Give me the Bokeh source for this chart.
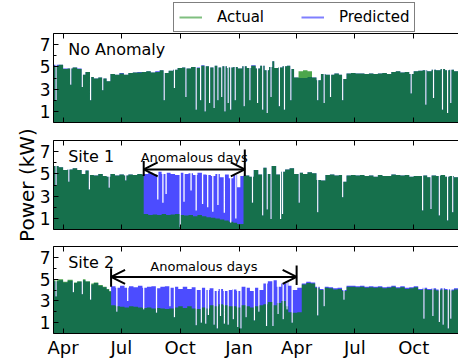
import numpy as np
from bokeh.plotting import figure
from bokeh.models import (Range1d, FixedTicker, LinearAxis, Legend, LegendItem,
                          Label, Arrow, OpenHead)
from bokeh.layouts import column
from bokeh.embed import file_html
from bokeh.resources import INLINE

# x values: days since 17 Mar 2013
tick_days = [15, 106, 198, 290, 380, 471, 563]
tick_labels = ["Apr", "Jul", "Oct", "Jan", "Apr", "Jul", "Oct"]

# ---- Panel 1: No Anomaly (segment start day, daily peak in kW) ----
p1_days = [0, 8, 15, 22, 30, 37, 44, 50, 57, 63, 70, 77, 83, 89, 96, 103, 110, 117, 124, 131,
           138, 145, 152, 159, 166, 173, 180, 187, 194, 201, 208, 215, 222, 229, 236, 243, 250,
           257, 264, 271, 274, 281, 288, 295, 302, 309, 316, 323, 330, 337, 342, 345, 351, 358,
           365, 372, 376, 383, 390, 397, 404, 411, 418, 425, 432, 439, 446, 453, 458, 465, 472,
           479, 486, 493, 500, 507, 514, 521, 528, 535, 542, 549, 556, 563, 570, 577, 584, 591,
           598, 605, 612, 619, 626, 633]
p1_actual = [5.1, 5.2, 4.8, 4.85, 4.95, 4.8, 4.3, 4.55, 4.1, 3.95, 4.05, 3.95, 3.7, 4.35, 4.3,
             4.4, 4.3, 4.45, 4.5, 4.5, 4.55, 4.6, 4.5, 4.55, 4.7, 4.45, 4.65, 4.75, 4.9, 4.95,
             4.85, 5.0, 4.9, 5.1, 5.05, 4.95, 5.1, 4.95, 5.05, 4.9, 4.95, 5.0, 4.85, 5.05, 4.9,
             5.1, 4.85, 5.1, 4.7, 5.0, 5.5, 4.9, 4.95, 5.05, 5.1, 4.8, 4.05, 4.6, 4.7, 4.6, 4.05,
             3.8, 4.35, 4.3, 4.3, 4.4, 4.3, 3.9, 4.4, 4.45, 4.4, 4.4, 4.35, 4.4, 4.35, 4.4, 4.45,
             4.35, 4.55, 4.6, 4.5, 4.55, 4.35, 4.6, 4.65, 4.7, 4.6, 4.75, 4.7, 4.8, 4.7, 4.75,
             4.6, 4.7]
p1_pred = [5.2, 5.2, 4.85, 4.85, 4.95, 4.85, 4.3, 4.55, 4.1, 3.95, 4.05, 3.95, 3.7, 4.35, 4.3,
           4.45, 4.3, 4.45, 4.5, 4.55, 4.55, 4.6, 4.5, 4.6, 4.7, 4.45, 4.65, 4.75, 4.9, 4.95,
           4.85, 5.0, 4.95, 5.15, 5.05, 4.95, 5.1, 4.95, 5.05, 4.9, 4.95, 5.0, 4.85, 5.05, 4.9,
           5.15, 4.85, 5.1, 4.7, 5.0, 5.5, 4.9, 4.95, 5.05, 5.1, 4.8, 4.05, 4.0, 4.0, 4.1, 4.05,
           3.8, 4.35, 4.3, 4.3, 4.4, 4.3, 3.9, 4.4, 4.45, 4.4, 4.4, 4.35, 4.4, 4.35, 4.4, 4.45,
           4.35, 4.55, 4.6, 4.5, 4.55, 4.35, 4.6, 4.65, 4.7, 4.6, 4.75, 4.7, 4.8, 4.7, 4.75,
           4.6, 4.7]
p1_dip_days = [3, 26, 44, 57, 76, 172, 188, 206, 222, 229, 236, 243, 250, 256, 262, 267, 272,
               276, 283, 297, 306, 318, 326, 333, 339, 352, 360, 370, 412, 422, 432, 451, 558,
               581, 593, 607, 615, 620]
p1_dip_vals = [2.0, 3.4, 3.2, 2.0, 2.9, 2.0, 3.1, 2.3, 1.15, 2.0, 1.0, 1.75, 1.3, 2.0, 2.3, 1.0,
               1.75, 1.15, 2.0, 1.45, 2.0, 1.75, 1.15, 0.85, 2.3, 1.45, 1.15, 2.0, 2.0, 1.75, 2.3,
               2.0, 2.6, 1.6, 2.2, 1.15, 0.85, 1.75]

# ---- Panel 2: Site 1 ----
p2_days = [0, 8, 15, 22, 30, 37, 44, 50, 57, 63, 70, 77, 83, 89, 96, 103, 110, 117, 124, 131, 138,
           141, 148, 155, 162, 169, 176, 183, 190, 197, 204, 211, 218, 225, 232, 239, 246, 253,
           260, 267, 274, 281, 287, 292,
           297, 301, 306, 313, 320, 327, 334, 341, 348, 355, 362, 369, 376, 383, 390, 397, 404,
           411, 418, 425, 432, 439, 446, 453, 458, 465, 472, 479, 486, 493, 500, 507, 514, 521,
           528, 535, 542, 549, 556, 563, 570, 577, 584, 591, 598, 605, 612, 619, 626, 633]
p2_actual = [5.7, 5.6, 5.35, 5.4, 5.5, 5.35, 5.0, 5.3, 4.9, 4.85, 5.0, 4.8, 4.75, 5.0, 4.85, 4.95,
             4.85, 4.95, 4.9, 5.0, 4.95,
             1.4, 1.3, 1.35, 1.3, 1.4, 1.3, 1.35, 1.4, 1.3, 1.25, 1.3, 1.2, 1.3, 1.2, 1.1, 1.05,
             1.0, 0.9, 0.8, 0.7, 0.6, 0.5, 0.5,
             4.8, 4.85, 4.75, 5.35, 4.95, 5.55, 5.0, 5.7, 4.95, 5.2, 5.4, 5.5, 5.0, 5.1, 5.0,
             5.15, 5.05, 4.45, 4.4, 4.9, 4.95, 4.85, 4.9, 4.3, 4.85, 4.9, 4.85, 4.9, 4.8, 4.85,
             4.75, 4.9, 4.8, 4.8, 4.95, 4.9, 4.85, 4.9, 4.75, 4.8, 4.8, 4.85, 4.7, 4.85, 4.8,
             4.9, 4.75, 4.8, 4.7, 4.75]
p2_pred = [5.7, 5.6, 5.35, 5.4, 5.5, 5.35, 5.0, 5.3, 4.9, 4.85, 5.0, 4.8, 4.75, 5.0, 4.85, 4.95,
           4.85, 4.95, 4.9, 5.0, 4.95,
           5.0, 5.1, 4.95, 5.2, 5.0, 5.1, 5.0, 4.9, 5.1, 5.0, 5.05, 4.9, 5.1, 4.95, 4.9, 4.8,
           5.0, 4.7, 4.95, 4.6, 4.9, 3.8, 4.8,
           4.85, 4.85, 4.75, 5.35, 4.95, 5.55, 5.0, 5.7, 4.95, 5.2, 5.4, 5.5, 5.0, 5.1, 5.0,
           5.15, 5.05, 4.45, 4.4, 4.9, 4.95, 4.85, 4.9, 4.3, 4.85, 4.9, 4.85, 4.9, 4.8, 4.85,
           4.75, 4.9, 4.8, 4.8, 4.95, 4.9, 4.85, 4.9, 4.75, 4.8, 4.8, 4.85, 4.7, 4.85, 4.8,
           4.9, 4.75, 4.8, 4.7, 4.75]
p2_dip_days = [3, 23, 55, 86, 112,
               162, 170, 175, 197, 203, 214, 222, 232, 240, 248, 256, 266, 276, 284,
               310, 326, 333, 339, 354, 357, 383, 412, 451, 576, 589, 602, 615, 623]
p2_dip_vals = [4.0, 4.3, 3.6, 3.75, 4.4,
               2.7, 2.4, 3.2, 0.2, 2.5, 3.5, 1.7, 2.3, 2.0, 1.6, 2.2, 1.5, 0.6, 1.0,
               2.4, 1.25, 1.8, 0.95, 0.95, 1.4, 2.4, 1.55, 2.9, 1.7, 1.85, 1.25, 0.8, 1.55]
site1_anomaly = (141, 299)

# ---- Panel 3: Site 2 ----
p3_days = [0, 8, 15, 22, 30, 37, 44, 50, 57, 63, 70, 77, 83, 87,
           90, 97, 104, 111, 118, 125, 132, 139, 146, 153, 160, 167, 174, 181, 188, 195, 202,
           209, 216, 223, 230, 237, 244, 251, 258, 265, 272, 279, 286, 293, 300, 307, 314, 321,
           328, 335, 342, 349, 356, 363, 367, 374, 381,
           388, 395, 402, 409, 416, 423, 430, 437, 444, 451, 458, 465, 472, 479, 486, 493, 500,
           507, 514, 521, 528, 535, 542, 549, 556, 563, 570, 577, 584, 591, 598, 605, 612, 619,
           626, 633]
p3_actual = [4.9, 5.0, 4.75, 4.95, 4.7, 4.8, 5.0, 4.8, 4.6, 4.7, 4.45, 4.3, 4.1, 3.9,
             2.6, 2.5, 2.45, 2.4, 2.5, 2.45, 2.4, 2.35, 2.4, 2.3, 2.35, 2.3, 2.25, 2.3, 2.4, 2.5,
             2.35, 2.5, 2.3, 2.25, 2.4, 2.3, 2.6, 2.5, 2.7, 2.6, 2.5, 2.5, 2.4, 2.6, 2.5, 2.4,
             2.5, 2.6, 2.7, 2.9, 2.6, 2.8, 3.0, 2.5, 1.95, 1.9, 1.95,
             4.5, 4.65, 4.6, 4.2, 4.0, 4.2, 4.15, 4.05, 4.1, 3.9, 4.3, 4.3, 4.25, 4.3, 4.2, 4.25,
             4.2, 4.25, 4.15, 4.2, 4.3, 4.15, 4.25, 4.1, 4.15, 4.25, 4.0, 4.1, 4.0, 4.05, 3.95,
             4.05, 4.0, 3.95, 4.05, 4.0]
p3_pred = [4.8, 4.9, 4.7, 4.85, 4.65, 4.75, 4.9, 4.75, 4.5, 4.65, 4.4, 4.25, 4.05, 3.85,
           4.35, 4.2, 4.4, 4.2, 4.35, 4.25, 4.4, 4.2, 4.3, 4.35, 4.15, 4.3, 4.35, 4.2, 4.3, 4.1,
           4.3, 4.1, 4.25, 4.0, 4.2, 4.0, 4.15, 3.9, 4.1, 3.9, 4.0, 4.05, 3.9, 4.3, 4.2, 3.9,
           4.2, 4.0, 4.6, 4.8, 4.9, 4.3, 4.6, 4.8, 4.4, 4.0, 4.2,
           4.6, 4.75, 4.7, 4.3, 4.1, 4.3, 4.25, 4.15, 4.2, 4.0, 4.4, 4.4, 4.35, 4.4, 4.3, 4.35,
           4.3, 4.35, 4.25, 4.3, 4.4, 4.25, 4.35, 4.2, 4.25, 4.35, 4.1, 4.2, 4.1, 4.15, 4.05,
           4.15, 4.1, 4.05, 4.15, 4.1]
p3_dip_days = [3, 30, 44, 57,
               98, 115, 140, 160, 181, 188, 222, 230, 237, 241, 250, 255, 260, 266, 272, 280,
               287, 292, 300, 313, 320, 332, 342, 350, 358, 364, 372,
               412, 422, 453, 578, 592, 602, 608, 616, 620]
p3_dip_vals = [3.4, 3.8, 3.6, 3.1,
               2.0, 3.0, 2.2, 1.9, 2.5, 1.5, 0.75, 1.0, 0.9, 1.7, 0.8, 0.45, 1.6, 0.9, 0.8, 1.3,
               0.6, 0.45, 1.5, 1.2, 2.0, 0.7, 0.7, 1.8, 1.3, 2.2, 1.0,
               1.65, 2.5, 3.1, 1.35, 1.6, 1.05, 0.8, 0.45, 1.35]
site2_anomaly = (90, 380)

FONT = "DejaVu Sans"
N_DAYS = 641


def daily(days, vals, dip_days, dip_vals):
    idx = np.searchsorted(np.array(days), np.arange(N_DAYS), side="right") - 1
    out = np.array(vals, dtype=float)[idx]
    for d, v in zip(dip_days, dip_vals):
        out[d:d + 2] = np.minimum(out[d:d + 2], v)
    return out


def make_panel(height, top, bottom, show_x):
    p = figure(width=458, height=height, x_range=Range1d(0, 633), y_range=Range1d(0, 8),
               output_backend="svg", toolbar_location=None,
               x_axis_location=None, y_axis_location=None,
               min_border_left=53, min_border_right=0,
               min_border_top=top, min_border_bottom=bottom)
    p.outline_line_color = None
    p.grid.visible = False
    p.background_fill_color = "white"
    p.border_fill_color = "white"
    for loc in ("above", "below"):
        if loc == "below" and show_x:
            ax = LinearAxis(ticker=FixedTicker(ticks=tick_days, minor_ticks=[]))
            ax.major_label_overrides = {d: t for d, t in zip(tick_days, tick_labels)}
            ax.major_label_text_font = FONT
            ax.major_label_text_font_size = "18px"
            ax.major_label_text_color = "black"
            ax.major_label_standoff = 3
        else:
            # unlabelled spine: tick marks drawn as minor ticks (no labels)
            ax = LinearAxis(ticker=FixedTicker(ticks=[], minor_ticks=tick_days))
        ax.axis_line_color = "black"
        ax.major_tick_in = 5
        ax.major_tick_out = 0
        ax.minor_tick_in = 5
        ax.minor_tick_out = 0
        ax.major_tick_line_color = "black"
        ax.minor_tick_line_color = "black"
        p.add_layout(ax, loc)
    yax = LinearAxis(ticker=FixedTicker(ticks=[1, 3, 5, 7], minor_ticks=[0, 2, 4, 6, 8]))
    yax.axis_line_color = "black"
    yax.major_tick_in = 5
    yax.major_tick_out = 0
    yax.minor_tick_in = 3
    yax.minor_tick_out = 0
    yax.major_tick_line_color = "black"
    yax.minor_tick_line_color = "black"
    yax.major_label_text_font = FONT
    yax.major_label_text_font_size = "17px"
    yax.major_label_text_color = "black"
    yax.major_label_standoff = 3
    p.add_layout(yax, "left")
    return p, yax


def draw_series(p, days, actual, pred, dip_days, dip_vals):
    x = np.arange(N_DAYS)
    yp = daily(days, pred, dip_days, dip_vals)
    ya = daily(days, actual, dip_days, dip_vals)
    p.varea_step(x=x, y1=0, y2=yp, step_mode="after", fill_color="#0000ff", fill_alpha=0.7)
    p.varea_step(x=x, y1=0, y2=ya, step_mode="after", fill_color="#008000", fill_alpha=0.7)


def panel_title(p, text):
    p.add_layout(Label(x=23, y=6.55, text=text, text_font=FONT, text_font_size="16px",
                       text_color="black", text_baseline="alphabetic"))


def anomaly_arrow(p, span, y, text_y, left_bar, right_bar):
    a, b = span
    p.add_layout(Arrow(x_start=a, y_start=y, x_end=b, y_end=y, line_width=2, line_color="black",
                       start=OpenHead(size=14, line_width=2, line_color="black"),
                       end=OpenHead(size=14, line_width=2, line_color="black")))
    p.segment(x0=[a, b], y0=[left_bar[0], right_bar[0]], x1=[a, b], y1=[left_bar[1], right_bar[1]],
              line_color="black", line_width=2)
    p.add_layout(Label(x=(a + b) / 2, y=text_y, text="Anomalous days", text_font=FONT,
                       text_font_size="13px", text_color="black", text_align="center",
                       text_baseline="alphabetic"))


# Legend strip on top (its frame is aligned with the panels' frames, left edge at x=53)
pl = figure(width=458, height=33, x_range=Range1d(0, 1), y_range=Range1d(0, 1),
            output_backend="svg", toolbar_location=None,
            x_axis_location=None, y_axis_location=None,
            min_border_left=53, min_border_right=0, min_border_top=0, min_border_bottom=0)
pl.outline_line_color = None
pl.grid.visible = False
# legend-only glyphs, kept outside the visible range
r_act = pl.line(x=[-2, -1], y=[-2, -2], line_color="#008000", line_alpha=0.5, line_width=2)
r_pred = pl.line(x=[-2, -1], y=[-2, -2], line_color="#0000ff", line_alpha=0.5, line_width=2)
legend = Legend(items=[LegendItem(label="Actual", renderers=[r_act]),
                       LegendItem(label="Predicted", renderers=[r_pred])],
                orientation="horizontal", location=(120, 1))
legend.label_text_font = FONT
legend.label_text_font_size = "15px"
legend.label_text_color = "black"
legend.border_line_color = "black"
legend.border_line_width = 1
legend.background_fill_alpha = 1.0
legend.padding = 5
legend.spacing = 37
legend.glyph_width = 23
legend.glyph_height = 16
legend.label_height = 16
legend.label_standoff = 15
legend.margin = 0
pl.add_layout(legend)

# Panel 1
p1, _ = make_panel(91, 0, 2, False)
draw_series(p1, p1_days, p1_actual, p1_pred, p1_dip_days, p1_dip_vals)
panel_title(p1, "No Anomaly")

# Panel 2
p2, yax2 = make_panel(120, 16, 15, False)
draw_series(p2, p2_days, p2_actual, p2_pred, p2_dip_days, p2_dip_vals)
panel_title(p2, "Site 1")
anomaly_arrow(p2, site1_anomaly, 5.4, 6.45, (4.8, 6.15), (4.8, 7.2))
yax2.axis_label = "Power (kW)"
yax2.axis_label_text_font = FONT
yax2.axis_label_text_font_size = "20px"
yax2.axis_label_text_font_style = "normal"
yax2.axis_label_text_color = "black"
yax2.axis_label_standoff = -2

# Panel 3
p3, _ = make_panel(116, 2, 25, True)
draw_series(p3, p3_days, p3_actual, p3_pred, p3_dip_days, p3_dip_vals)
panel_title(p3, "Site 2")
anomaly_arrow(p3, site2_anomaly, 5.2, 6.15, (4.3, 6.0), (4.45, 6.25))

layout = column(pl, p1, p2, p3, spacing=0)
open("out.html", "w").write(file_html(layout, INLINE))
